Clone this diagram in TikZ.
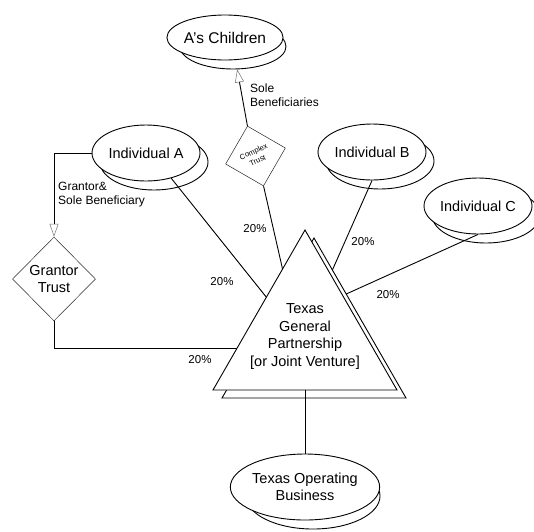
\documentclass[tikz,border=0pt]{standalone}
\usepackage{fontspec}
\setmainfont{Liberation Sans}
\usetikzlibrary{shapes.geometric,arrows.meta,calc}
\begin{document}
\begin{tikzpicture}[x=1pt,y=-1pt,
  party/.style={ellipse,draw,line width=0.9pt,fill=white,inner sep=0pt,
    minimum width=108pt,minimum height=56pt,align=center,
    font=\fontsize{14.5}{17.5}\selectfont},
  ghost/.style={ellipse,draw,line width=0.9pt,fill=white,inner sep=0pt,
    minimum width=108pt,minimum height=56pt},
  trust/.style={diamond,draw=black!85,line width=0.5pt,fill=white,inner sep=0pt,
    align=center},
  link/.style={line width=0.9pt},
  hollow/.style={-{Triangle[open,length=13pt,width=9pt,line width=0.5pt,color=black!55]}},
  pct/.style={font=\fontsize{11.5}{13}\selectfont,inner sep=0pt},
  note/.style={font=\fontsize{12}{14}\selectfont,align=left,anchor=west,inner sep=0pt},
  partner/.style={line width=0.9pt,fill=white}
]
\fill[white] (0,0) rectangle (534,531);
\useasboundingbox (0,0) rectangle (534,531);

% --- shadowed ellipses (back copy first, then the front one) ---
\node[ghost,minimum width=106pt,minimum height=45pt] (ac-s) at (233,46.5) {};
\node[party,minimum width=106pt,minimum height=45pt,font=\fontsize{15.5}{18}\selectfont] (ac) at (225,37.5) {A’s Children};

\node[ghost] (ia-s) at (154,162) {};
\node[party] (ia) at (146,153) {Individual A};

\node[ghost] (ib-s) at (380,161) {};
\node[party] (ib) at (372,152) {Individual B};

\node[ghost] (ic-s) at (486,215) {};
\node[party] (ic) at (478,206) {Individual C};

\node[ghost,minimum width=134pt,minimum height=66pt] (tob-s) at (313,496) {};
\node[party,minimum width=134pt,minimum height=66pt] (tob) at (305,487) {Texas Operating\\Business};

% --- the partnership triangle with its offset copy ---
\coordinate (gq-top) at (314,238);
\coordinate (gq-bl) at (222,398);
\coordinate (gq-br) at (406,398);
\coordinate (gp-top) at (305,230);
\coordinate (gp-bl) at (213,390);
\coordinate (gp-br) at (397,390);
\draw[partner] (gq-top) -- (gq-br) -- (gq-bl) -- cycle;
\draw[partner] (gp-top) -- (gp-br) -- (gp-bl) -- cycle;
\node[align=center,font=\fontsize{14.5}{17.7}\selectfont] (gp) at (305,336.5)
  {Texas\\General\\Partnership\\{[}or Joint Venture{]}};

% points where the ownership lines meet the triangle
\coordinate (gp-a) at ($(gp-top)!0.42!(gp-bl)$);
\coordinate (gp-c) at ($(gp-top)!0.244!(gp-bl)$);
\coordinate (gp-g) at ($(gp-top)!0.7375!(gp-bl)$);
\coordinate (gp-b) at ($(gq-top)!0.2!(gq-br)$);
\coordinate (gp-cc) at ($(gq-top)!0.35!(gq-br)$);
\coordinate (gp-foot) at (305,390);

% --- trusts ---
\node[trust,minimum width=83pt,minimum height=84pt,font=\fontsize{14.5}{16.5}\selectfont] (gt) at (54,279) {Grantor\\Trust};
\node[trust,minimum width=62pt,minimum height=62pt,rotate=15,
  font=\fontsize{7.5}{8.5}\selectfont] (ct) at (255.5,156)
  {\rotatebox{10}{\shortstack{Complex\\Trust}}};

% --- connectors ---
\draw[link,hollow] (ia.west) -| (gt.north);
\draw[link] (gt.south) |- (gp-g);
\draw[link,hollow] (ct.north) -- (ac-s);
\draw[link] (ct.south) -- (gp-c);
\draw[link] (ia.-45) -- (gp-a);
\draw[link] (ib.south) -- (gp-b);
\draw[link] (ic.south) -- (gp-cc);
\draw[link] (gp-foot) -- (tob);

% --- labels ---
\node[note] (n-sole) at (250,95) {Sole\\Beneficiaries};
\node[note] (n-grantor) at (58,195) {Grantor\&\\Sole Beneficiary};
\node[pct] (p-ct) at (255,229) {20\%};
\node[pct] (p-ia) at (222,282) {20\%};
\node[pct] (p-ib) at (363,242) {20\%};
\node[pct] (p-ic) at (388,295) {20\%};
\node[pct] (p-gt) at (200,360) {20\%};
\end{tikzpicture}
\end{document}
